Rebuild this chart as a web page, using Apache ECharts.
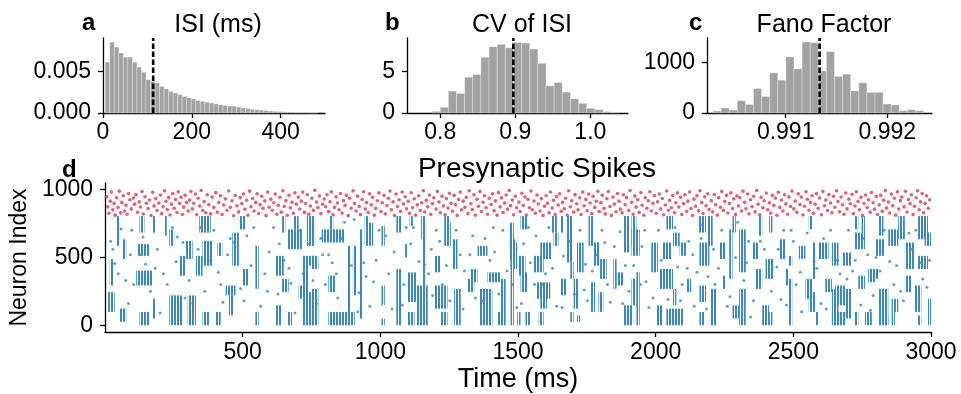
<!DOCTYPE html>
<html><head><meta charset="utf-8">
<script src="https://cdn.jsdelivr.net/npm/echarts@6/dist/echarts.min.js"></script>
<style>html,body{margin:0;padding:0;background:#fff}#c{width:961px;height:394px}</style>
</head><body><div id="c"></div>
<script>
// ---------- Panel a: ISI histogram (density) ----------
const isiBinStart = 5, isiBinWidth = 10.2;
const isiDensity = [0.0061,0.0085,0.0079,0.0072,0.0067,0.0067,0.0061,0.0055,0.0049,0.0040,0.0038,0.0036,0.0032,0.0029,0.0026,0.0024,0.0022,0.0020,0.0018,0.0017,0.0015,0.0014,0.0013,0.0012,0.0011,0.0010,0.0009,0.00085,0.0008,0.0007,0.0006,0.00055,0.00045,0.0004,0.00035,0.0003,0.00025,0.0002,0.00017,0.00014,0.00011,0.00009,0.00007,0.00005,0.00004,0.00003,0.00002];
const isiMean = 113;
const isiTicks = [0,200,400];
// ---------- Panel b: CV of ISI ----------
const cvBinStart = 0.789, cvBinWidth = 0.01085;
const cvDensity = [0.2,0.68,2.64,2.36,4.32,4.64,6.72,8.0,8.28,7.88,8.52,8.44,7.72,6.0,3.28,3.68,2.52,1.72,1.16,0.56,0.4,0.16,0.1];
const cvMean = 0.8973;
const cvTicks = [0.8,0.9,1.0];
// ---------- Panel c: Fano factor ----------
const ffBinStart = 0.990285, ffBinWidth = 0.0000797;
const ffDensity = [39,99,59,243,171,487,329,796,651,1112,875,1408,1395,836,1217,724,770,441,599,408,408,178,158,46,66,46];
const ffMean = 0.991334;
const ffTicks = [0.991,0.992];
// ---------- Panel d: raster ----------
// excitatory activity blocks: [tStart, tEnd, neuronLow, neuronHigh]
const excBlocks = [
[41,53,585,805],[125,143,683,805],[173,185,683,805],[216,222,660,805],[342,384,683,805],[486,510,707,805],[643,655,683,805],[685,703,707,805],[733,763,585,805],
[65,77,488,634],[119,161,512,598],[233,251,585,707],[294,318,488,622],[354,390,439,622],[408,426,512,610],[462,486,439,683],[546,558,268,585],[618,649,366,512],[661,715,561,707],[715,763,439,512],
[17,29,293,488],[113,173,293,403],[270,294,366,512],[330,354,366,512],[438,474,220,293],[498,522,293,415],[643,667,244,342],[703,727,195,293],
[11,35,98,244],[53,77,25,122],[125,161,0,98],[173,185,49,195],[233,282,0,220],[300,330,0,220],[354,378,0,98],[402,420,0,98],[450,468,73,220],[546,558,0,98],[618,643,0,147],[661,679,0,98],[739,763,0,244],
[817,829,707,805],[943,955,585,805],[1058,1076,683,805],[1106,1118,732,805],[1148,1166,634,805],[1232,1250,585,805],[1467,1485,585,756],
[787,847,610,707],[847,871,610,707],[880,890,98,585],[900,912,220,585],[925,935,49,707],[955,974,585,756],[1004,1016,585,732],[1064,1076,293,415],[1090,1100,500,600],[1154,1166,268,805],[1196,1220,390,512],[1244,1256,585,756],[1262,1280,415,634],[1329,1353,317,415],[1353,1389,512,585],[1389,1437,317,390],[1473,1497,415,610],
[715,739,0,463],[751,775,415,512],[751,775,0,268],[811,835,244,366],[1004,1016,147,293],[1058,1076,0,415],[1100,1130,171,390],[1130,1172,0,293],[1196,1244,122,293],[1268,1292,0,268],[1316,1341,244,342],[1359,1407,0,268],[1425,1449,0,98],[811,907,0,98],[1004,1016,0,49],[1100,1124,0,98],[1220,1244,0,98],
[1509,1533,707,805],[1623,1641,683,805],[1653,1665,683,805],[1678,1696,463,805],[1756,1774,585,805],[1882,1906,536,805],[1912,1930,585,805],[2039,2063,707,805],[2153,2183,683,805],[2189,2207,585,805],
[1467,1491,488,634],[1473,1485,0,585],[1503,1527,366,512],[1557,1593,390,512],[1581,1623,488,610],[1629,1647,585,683],[1690,1702,342,463],[1714,1738,390,610],[1774,1798,439,610],[1798,1822,342,488],[1846,1858,268,488],[1912,1942,512,707],[1984,2008,390,610],[2026,2057,488,610],[2063,2087,585,683],[2087,2111,512,610],[2159,2195,439,610],
[1437,1455,0,342],[1509,1533,244,390],[1569,1617,195,317],[1581,1605,122,220],[1653,1678,220,342],[1702,1720,122,342],[1762,1780,98,317],[1792,1810,98,244],[1858,1882,293,390],[1912,1930,147,342],[1930,1942,0,390],[2014,2063,268,415],[2063,2075,147,268],[2111,2129,244,342],[2159,2183,171,293],[2201,2219,0,268],
[1497,1509,0,98],[1527,1545,0,98],[1575,1593,0,98],[1690,1702,25,98],[1714,1726,25,73],[1882,1918,0,147],[2002,2026,0,147],[2039,2099,0,122],[2159,2177,0,98],
[2279,2291,683,805],[2375,2387,660,805],[2412,2424,683,805],[2556,2568,707,805],[2724,2736,707,805],[2748,2760,660,805],[2809,2827,660,805],[2881,2905,634,805],[2953,2989,634,805],
[2231,2255,488,610],[2267,2279,342,707],[2303,2327,390,707],[2351,2375,488,610],[2412,2424,366,488],[2448,2472,488,634],[2484,2496,439,512],[2520,2544,488,585],[2568,2580,342,610],[2592,2628,488,610],[2640,2664,439,610],[2676,2712,439,536],[2724,2760,561,683],[2785,2809,342,415],[2797,2833,512,634],[2845,2881,585,707],[2905,2941,415,610],[2953,2989,415,512],[2977,3000,585,683],
[2243,2255,268,366],[2303,2327,98,268],[2363,2387,268,415],[2399,2430,342,488],[2472,2484,293,415],[2484,2496,0,342],[2544,2568,195,342],[2556,2580,98,244],[2616,2640,244,342],[2640,2664,0,268],[2652,2688,147,293],[2688,2712,49,268],[2736,2760,268,366],[2772,2797,317,415],[2809,2845,0,268],[2857,2881,98,195],[2905,2929,244,366],[2941,2965,98,293],[2989,3000,98,195],
[2279,2303,49,147],[2303,2327,0,98],[2387,2412,0,147],[2412,2424,0,98],[2580,2592,0,98],[2640,2688,0,98],[2724,2736,0,98],[2760,2785,0,98],[2833,2845,0,73],[2857,2869,0,98],[2953,2965,0,73],[2989,3000,0,98]
];
// isolated excitatory spikes: [t, neuron]
const excSpikes = [[20,620],[35,455],[48,380],[58,710],[85,160],[92,520],[104,300],[138,650],[147,450],[165,250],[190,560],[200,90],[212,380],[245,720],[258,470],[283,610],[305,330],[318,160],[338,560],[362,250],[395,700],[412,390],[428,170],[445,520],[470,610],[492,270],[515,660],[530,440],[565,140],[580,380],[596,540],[612,720],[628,230],[650,480],[675,310],[690,90],[720,380],[742,600],[768,160],[790,520],[800,300],[825,460],[845,200],[858,640],[895,440],[905,780],[922,240],[948,360],[962,140],[985,480],[995,700],[1030,380],[1042,120],[1085,300],[1094,720],[1110,600],[1140,470],[1175,380],[1185,560],[1203,700],[1225,300],[1252,180],[1290,520],[1305,400],[1335,660],[1372,180],[1398,480],[1410,720],[1430,230],[1460,400],[1495,130],[1520,600],[1545,460],[1560,300],[1600,380],[1612,720],[1640,140],[1665,510],[1705,230],[1745,450],[1752,180],[1785,520],[1815,610],[1835,170],[1870,690],[1890,440],[1903,250],[1950,580],[1965,320],[1975,130],[2010,700],[2045,190],[2080,430],[2096,300],[2120,620],[2140,140],[2150,390],[2170,740],[2190,360],[2210,560],[2228,420],[2260,140],[2290,500],[2320,330],[2338,620],[2345,60],[2395,560],[2440,430],[2455,190],[2465,700],[2500,620],[2510,300],[2530,100],[2575,470],[2600,160],[2610,640],[2670,380],[2700,700],[2715,400],[2745,150],[2770,520],[2790,220],[2815,400],[2850,470],[2865,300],[2890,250],[2930,560],[2945,700],[2970,340],[2995,480],
[28,560],[75,330],[97,700],[130,520],[182,420],[226,300],[262,650],[290,200],[347,720],[375,480],[420,300],[455,640],[505,180],[540,720],[590,250],[633,600],[668,420],[710,700],[755,330],[783,640],[812,520],[840,380],[870,760],[918,100],[940,460],[975,320],[1020,660],[1050,540],[1080,150],[1120,720],[1160,450],[1190,220],[1215,620],[1240,440],[1275,700],[1300,120],[1325,520],[1345,200],[1380,640],[1415,540],[1445,700],[1480,300],[1512,160],[1538,720],[1565,660],[1590,300],[1625,420],[1660,130],[1685,620],[1725,700],[1740,260],[1770,400],[1805,700],[1825,300],[1850,580],[1880,160],[1920,440],[1945,300],[1960,700],[1990,200],[2020,480],[2070,720],[2090,180],[2115,420],[2135,520],[2165,640],[2185,120],[2215,300],[2240,700],[2270,210],[2298,760],[2330,460],[2355,180],[2380,620],[2420,250],[2445,560],[2475,150],[2492,700],[2525,390],[2550,680],[2585,420],[2620,120],[2635,700],[2660,480],[2695,340],[2725,480],[2755,640],[2780,110],[2800,500],[2830,700],[2875,440],[2900,180],[2920,680],[2960,460],[2985,280]];
// inhibitory spikes: [t, neuron]
const inhSpikes = [[6,948],[10,873],[14,826],[19,915],[23,982],[28,851],[33,899],[37,812],[42,940],[47,868],[52,989],[57,829],[61,906],[66,955],[71,842],[76,884],[80,818],[85,971],[90,925],[95,858],
[103,938],[107,893],[112,963],[118,833],[124,910],[129,872],[134,986],[139,820],[145,948],[150,900],[156,861],[161,924],[167,809],[173,980],[178,880],[184,934],[189,846],[195,902],
[201,960],[206,823],[211,875],[216,991],[221,914],[226,853],[231,941],[236,813],[241,893],[246,972],[251,862],[256,927],[261,831],[266,984],[271,899],[276,944],[281,817],[286,871],[291,958],[296,906],
[302,842],[307,923],[312,986],[317,858],[322,900],[328,967],[333,815],[338,936],[344,879],[349,994],[355,846],[360,912],[366,830],[371,962],[377,889],[383,821],[389,945],[395,869],
[402,978],[408,834],[413,905],[419,955],[425,816],[431,887],[437,932],[443,848],[449,990],[455,870],[461,918],[467,807],[473,957],[479,881],[485,836],[491,941],[497,897],
[503,968],[508,855],[514,922],[519,811],[525,989],[530,874],[536,935],[541,843],[547,906],[552,970],[558,824],[563,889],[569,951],[574,862],[580,917],[585,808],[591,982],[596,870],
[602,930],[607,848],[613,903],[618,967],[624,819],[629,885],[635,944],[640,834],[646,992],[651,876],[657,919],[662,811],[668,958],[673,866],[679,907],[684,826],[690,976],[695,893],
[702,945],[707,857],[713,915],[718,983],[724,832],[729,898],[735,962],[740,818],[746,879],[751,936],[757,847],[762,995],[768,908],[773,868],[779,954],[784,823],[790,892],[796,931],
[801,874],[806,962],[812,838],[817,910],[822,985],[828,815],[833,869],[839,947],[844,901],[850,852],[855,972],[861,827],[866,919],[872,884],[877,958],[883,808],[888,936],[894,863],
[901,991],[906,897],[912,842],[917,952],[923,875],[928,816],[934,927],[939,984],[945,857],[950,905],[956,831],[961,969],[967,888],[972,944],[978,812],[983,862],[989,918],[995,976],
[1002,838],[1007,903],[1013,958],[1018,821],[1024,883],[1029,937],[1035,990],[1040,852],[1046,910],[1051,809],[1057,968],[1062,876],[1068,925],[1073,840],[1079,982],[1084,894],[1090,948],[1095,859],
[1101,914],[1106,825],[1112,977],[1117,868],[1123,932],[1128,812],[1134,888],[1139,955],[1145,846],[1150,903],[1156,992],[1161,835],[1167,921],[1172,873],[1178,961],[1183,818],[1189,897],[1194,940],
[1202,857],[1207,986],[1213,909],[1218,829],[1224,951],[1229,880],[1235,815],[1240,934],[1246,865],[1251,973],[1257,900],[1262,841],[1268,958],[1273,888],[1279,810],[1284,927],[1290,982],[1295,851],
[1301,915],[1307,870],[1312,944],[1318,823],[1323,991],[1329,896],[1334,853],[1340,962],[1345,811],[1351,929],[1356,878],[1362,987],[1367,838],[1373,907],[1378,955],[1384,866],[1389,819],[1395,936],
[1402,891],[1407,969],[1413,845],[1418,917],[1424,812],[1429,978],[1435,873],[1440,939],[1446,831],[1451,902],[1457,960],[1462,856],[1468,994],[1473,882],[1479,923],[1484,815],[1490,951],[1495,866],
[1503,908],[1508,838],[1514,973],[1519,885],[1525,946],[1530,813],[1536,929],[1541,867],[1547,990],[1552,851],[1558,916],[1563,826],[1569,961],[1574,894],[1580,842],[1585,934],[1591,808],[1596,877],
[1602,955],[1607,899],[1613,829],[1618,983],[1624,864],[1629,921],[1635,816],[1640,949],[1646,887],[1651,970],[1657,841],[1662,906],[1668,859],[1673,937],[1679,811],[1684,992],[1690,874],[1695,918],
[1702,834],[1707,963],[1713,896],[1718,852],[1724,940],[1729,817],[1735,982],[1740,881],[1746,928],[1751,845],[1757,967],[1762,902],[1768,823],[1773,951],[1779,869],[1784,914],[1790,988],[1795,838],
[1801,904],[1806,959],[1812,862],[1817,821],[1823,933],[1828,986],[1834,876],[1839,810],[1845,945],[1850,893],[1856,837],[1861,972],[1867,915],[1872,856],[1878,829],[1883,962],[1889,889],[1894,941],
[1902,847],[1907,993],[1913,907],[1918,818],[1924,954],[1929,871],[1935,925],[1940,832],[1946,979],[1951,885],[1957,811],[1962,940],[1968,863],[1973,918],[1979,984],[1984,843],[1990,899],[1995,956],
[2002,826],[2007,910],[2013,968],[2018,858],[2024,935],[2029,814],[2035,887],[2040,990],[2046,848],[2051,921],[2057,866],[2062,957],[2068,830],[2073,903],[2079,976],[2084,872],[2090,944],[2095,817],
[2101,897],[2106,962],[2112,839],[2117,915],[2123,983],[2128,860],[2134,809],[2139,930],[2145,878],[2150,955],[2156,845],[2161,992],[2167,906],[2172,824],[2178,948],[2183,883],[2189,970],[2194,853],
[2202,919],[2207,836],[2213,964],[2218,889],[2224,812],[2229,941],[2235,870],[2240,987],[2246,847],[2251,912],[2257,958],[2262,828],[2268,898],[2273,976],[2279,861],[2284,933],[2290,816],[2295,954],
[2301,880],[2306,940],[2312,843],[2317,989],[2323,907],[2328,859],[2334,968],[2339,821],[2345,926],[2350,874],[2356,951],[2361,836],[2367,994],[2372,893],[2378,815],[2383,944],[2389,866],[2394,918],
[2402,975],[2407,852],[2413,903],[2418,827],[2424,958],[2429,884],[2435,937],[2440,811],[2446,981],[2451,869],[2457,924],[2462,842],[2468,962],[2473,895],[2479,819],[2484,947],[2490,876],[2495,990],
[2502,858],[2507,916],[2513,832],[2518,969],[2524,890],[2529,945],[2535,813],[2540,877],[2546,984],[2551,929],[2557,848],[2562,906],[2568,955],[2573,825],[2579,893],[2584,972],[2590,863],[2595,938],
[2602,814],[2607,987],[2613,881],[2618,923],[2624,846],[2629,964],[2635,902],[2640,829],[2646,951],[2651,870],[2657,992],[2662,913],[2668,837],[2673,946],[2679,889],[2684,818],[2690,975],[2695,858],
[2702,930],[2707,896],[2713,966],[2718,823],[2724,879],[2729,985],[2735,912],[2740,851],[2746,943],[2751,810],[2757,898],[2762,961],[2768,868],[2773,925],[2779,834],[2784,979],[2790,903],[2795,856],
[2801,949],[2806,817],[2812,888],[2817,958],[2823,840],[2828,921],[2834,993],[2839,864],[2845,909],[2850,827],[2856,967],[2861,882],[2867,936],[2872,812],[2878,984],[2883,857],[2889,919],[2894,946],
[2902,873],[2907,988],[2913,835],[2918,927],[2924,896],[2929,962],[2935,816],[2940,878],[2946,940],[2951,991],[2957,852],[2962,910],[2968,972],[2973,829],[2979,899],[2984,955],[2990,862],[2995,926]];
const rasterYTicks = [0,500,1000];
const rasterXTicks = [500,1000,1500,2000,2500,3000];

// ---------- build ----------
const FONT = "'Liberation Sans', Arial, Helvetica, sans-serif";
const BLUE = '#3a87c3', RED = '#d63b52', GRAY = '#a2a2a2';
function bins(start, width, vals){ return vals.map((v,i)=>[start+i*width, start+(i+1)*width, v]); }
function histRender(params, api){
  const a = api.coord([api.value(0), api.value(2)]);
  const b = api.coord([api.value(1), 0]);
  return {type:'rect', shape:{x:a[0], y:a[1], width:b[0]-a[0], height:b[1]-a[1]},
    style:{fill:GRAY, stroke:'rgba(255,255,255,0.45)', lineWidth:0.7}};
}
function meanRender(params, api){
  const a = api.coord([api.value(0), 0]);
  const b = api.coord([api.value(0), api.value(1)]);
  return {type:'line', shape:{x1:a[0], y1:a[1], x2:b[0], y2:b[1]},
    style:{stroke:'#000', lineWidth:2.6, lineDash:[5.5,2.5], fill:null}};
}
const pc = document.createElement('canvas'); pc.width = 3; pc.height = 1;
const pctx = pc.getContext('2d'); pctx.fillStyle = BLUE; pctx.fillRect(0,0,2,1);
const blockFill = {image: pc, repeat: 'repeat'};
function blockRender(params, api){
  const a = api.coord([api.value(0), api.value(3)]);
  const b = api.coord([api.value(1), api.value(2)]);
  return {type:'rect', shape:{x:a[0], y:a[1], width:Math.max(b[0]-a[0],2.2), height:b[1]-a[1]},
    style:{fill:blockFill}};
}
function tickCfg(ticks){ return {show:true, length:5, lineStyle:{color:'#000', width:1.3}, customValues:ticks}; }
function ax(grid, min, max, ticks, fmt, margin, extra){
  return Object.assign({type:'value', gridIndex:grid, min, max,
    axisLine:{show:true, onZero:false, lineStyle:{color:'#000', width:1.3}},
    axisTick:tickCfg(ticks), splitLine:{show:false},
    axisLabel:{color:'#000', fontSize:23, fontFamily:FONT, margin, customValues:ticks, formatter:fmt}
  }, extra||{});
}
const titleStyle = {color:'#000', fontSize:25, fontFamily:FONT, fontWeight:'normal'};
const letterStyle = {color:'#000', fontSize:24, fontFamily:FONT, fontWeight:'bold'};

const option = {
  animation:false,
  backgroundColor:'#fff',
  title:[
    {text:'ISI (ms)', left:213, top:8, textAlign:'center', textStyle:titleStyle},
    {text:'CV of ISI', left:517, top:8, textAlign:'center', textStyle:titleStyle},
    {text:'Fano Factor', left:819, top:8, textAlign:'center', textStyle:titleStyle},
    {text:'Presynaptic Spikes', left:532, top:150, textAlign:'center', textStyle:{color:'#000', fontSize:28, fontFamily:FONT, fontWeight:'normal'}},
    {text:'a', left:77, top:6, textStyle:letterStyle},
    {text:'b', left:380, top:6, textStyle:letterStyle},
    {text:'c', left:684, top:6, textStyle:letterStyle},
    {text:'d', left:57, top:153, textStyle:letterStyle}
  ],
  grid:[
    {left:103, top:38, width:222, height:75},
    {left:407, top:38, width:221, height:75},
    {left:707, top:38, width:225, height:75},
    {left:102, top:183, width:829, height:150}
  ],
  xAxis:[
    ax(0, 0, 500, isiTicks, v=>String(v), 8),
    ax(1, 0.7556, 1.0502, cvTicks, v=>v.toFixed(1), 8),
    ax(2, 0.990226, 0.99244, ffTicks, v=>v.toFixed(3), 8),
    ax(3, 0, 3000, rasterXTicks, v=>String(v), 9, {name:'Time (ms)', nameLocation:'middle', nameGap:34,
      nameTextStyle:{color:'#000', fontSize:27, fontFamily:FONT}})
  ],
  yAxis:[
    ax(0, 0, 0.009, [0,0.005], v=>v.toFixed(3), 12),
    ax(1, 0, 9.05, [0,5], v=>String(v), 12),
    ax(2, 0, 1487, [0,1000], v=>String(v), 12),
    ax(3, -50, 1049, rasterYTicks, v=>String(v), 12, {name:'Neuron Index', nameLocation:'middle', nameGap:69,
      nameTextStyle:{color:'#000', fontSize:23, fontFamily:FONT}})
  ],
  series:[
    {type:'custom', xAxisIndex:0, yAxisIndex:0, data:bins(isiBinStart,isiBinWidth,isiDensity), renderItem:histRender, encode:{x:[0,1], y:2}, silent:true},
    {type:'custom', xAxisIndex:0, yAxisIndex:0, data:[[isiMean, 0.009]], renderItem:meanRender, encode:{x:0, y:1}, silent:true, z:5},
    {type:'custom', xAxisIndex:1, yAxisIndex:1, data:bins(cvBinStart,cvBinWidth,cvDensity), renderItem:histRender, encode:{x:[0,1], y:2}, silent:true},
    {type:'custom', xAxisIndex:1, yAxisIndex:1, data:[[cvMean, 9.05]], renderItem:meanRender, encode:{x:0, y:1}, silent:true, z:5},
    {type:'custom', xAxisIndex:2, yAxisIndex:2, data:bins(ffBinStart,ffBinWidth,ffDensity), renderItem:histRender, encode:{x:[0,1], y:2}, silent:true},
    {type:'custom', xAxisIndex:2, yAxisIndex:2, data:[[ffMean, 1487]], renderItem:meanRender, encode:{x:0, y:1}, silent:true, z:5},
    {type:'custom', xAxisIndex:3, yAxisIndex:3, data:excBlocks, renderItem:blockRender, encode:{x:[0,1], y:[2,3]}, silent:true},
    {type:'scatter', xAxisIndex:3, yAxisIndex:3, data:excSpikes, symbol:'circle', symbolSize:3, itemStyle:{color:BLUE}, silent:true},
    {type:'scatter', xAxisIndex:3, yAxisIndex:3, data:inhSpikes, symbol:'circle', symbolSize:3.6, itemStyle:{color:RED}, silent:true}
  ]
};
const chart = echarts.init(document.getElementById('c'), null, {renderer:'canvas'});
chart.setOption(option);
</script></body></html>
